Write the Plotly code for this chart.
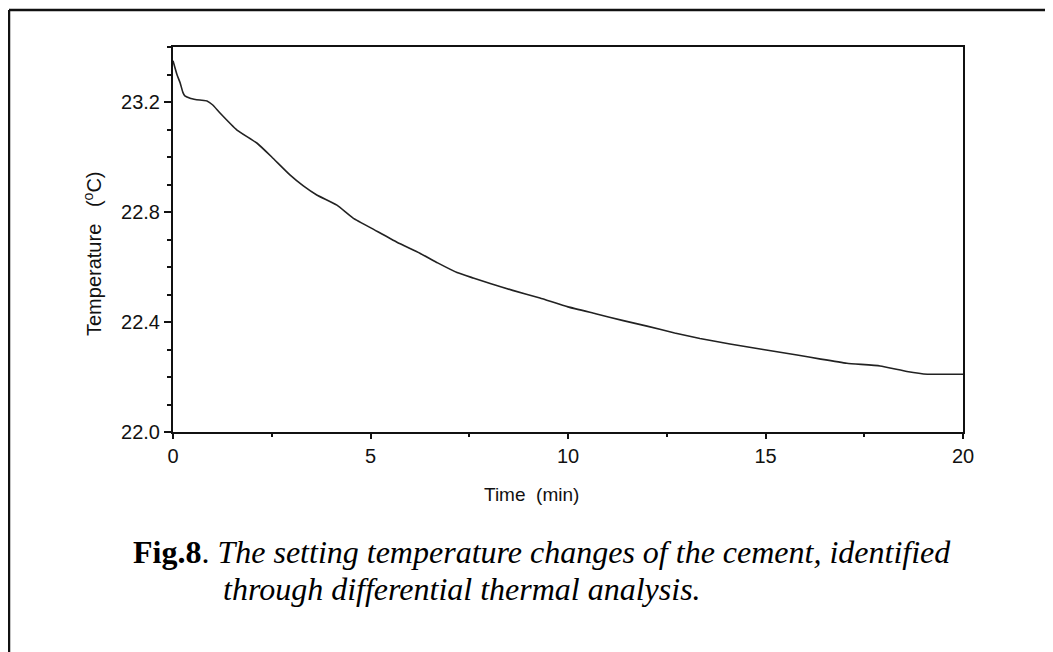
import plotly.graph_objects as go

time_min = [0, 0.1, 0.18, 0.25, 0.3, 0.45, 0.68, 0.86, 1.0, 1.19, 1.62, 2.13, 2.5, 2.96,
            3.3, 3.64, 4.15, 4.56, 5.1, 5.67, 6.25, 6.7, 7.19, 7.6, 8.03, 8.6, 9.29,
            10.0, 10.7, 11.4, 12.0, 12.7, 13.34, 14.1, 14.94, 15.8, 16.4, 17.06, 17.9,
            18.58, 19.1, 19.5, 20.0]
temperature = [23.35, 23.30, 23.27, 23.235, 23.222, 23.213, 23.207, 23.204, 23.19, 23.16,
               23.098, 23.05, 23.0, 22.935, 22.895, 22.862, 22.825, 22.778, 22.735, 22.69,
               22.65, 22.615, 22.58, 22.56, 22.54, 22.515, 22.487, 22.455, 22.43, 22.405,
               22.385, 22.36, 22.34, 22.32, 22.30, 22.28, 22.265, 22.25, 22.24, 22.22,
               22.21, 22.21, 22.21]

x_ticks = [0, 5, 10, 15, 20]
y_ticks = [22.0, 22.4, 22.8, 23.2]

x_title = "Time  (min)"
y_title = "Temperature   (<sup>o</sup>C)"
caption_line1 = "<b>Fig.8</b>. <i>The setting temperature changes of the cement, identified</i>"
caption_line2 = "<i>through differential thermal analysis.</i>"

W, H = 1053, 652
OFF = 8  # page body margin
L, T = 173 - OFF, 47 - OFF
PW, PH = 790, 385
R, B = W - L - PW, H - T - PH


def px(xpix):
    return (xpix - OFF - L) / PW


def py(ypix):
    return (T + PH - (ypix - OFF)) / PH


fig = go.Figure()
fig.add_trace(go.Scatter(x=time_min, y=temperature, mode="lines",
                         line=dict(color="#222222", width=1.6, shape="spline", smoothing=0.4),
                         showlegend=False))

axis_font = dict(family="Liberation Sans, Arial", size=20, color="#111111")

fig.update_layout(
    width=W, height=H,
    margin=dict(l=L, r=R, t=T, b=B),
    paper_bgcolor="white", plot_bgcolor="white",
    xaxis=dict(range=[0, 20], tickvals=x_ticks, ticktext=[str(v) for v in x_ticks],
               showgrid=False, zeroline=False, showline=True, linecolor="#111111",
               linewidth=2, mirror=True, ticks="outside", ticklen=5, tickwidth=1.5,
               tickcolor="#111111", tickfont=axis_font,
               minor=dict(dtick=2.5, tick0=0, ticks="outside", ticklen=3,
                          tickcolor="#111111", showgrid=False)),
    yaxis=dict(range=[22.0, 23.4], tickvals=y_ticks, ticktext=[f"{v:.1f}" for v in y_ticks],
               showgrid=False, zeroline=False, showline=True, linecolor="#111111",
               linewidth=2, mirror=True, ticks="outside", ticklen=7, tickwidth=1.5,
               tickcolor="#111111", tickfont=axis_font,
               minor=dict(dtick=0.1, tick0=22.0, ticks="outside", ticklen=4,
                          tickcolor="#111111", showgrid=False)),
)

fig.add_annotation(text=x_title, x=px(531), y=py(494), xref="paper", yref="paper",
                   xanchor="center", yanchor="middle", showarrow=False,
                   font=dict(family="Liberation Sans, Arial", size=19, color="#111111"))
fig.add_annotation(text=y_title, x=px(92), y=py(254), xref="paper", yref="paper",
                   xanchor="center", yanchor="middle", showarrow=False, textangle=-90,
                   font=dict(family="Liberation Sans, Arial", size=20, color="#111111"))

fig.add_annotation(text=caption_line1, x=px(131), y=py(552), xref="paper", yref="paper",
                   xanchor="left", yanchor="middle", showarrow=False,
                   font=dict(family="Liberation Serif, Times New Roman", size=32,
                             color="#000000"))
fig.add_annotation(text=caption_line2, x=px(221), y=py(589), xref="paper", yref="paper",
                   xanchor="left", yanchor="middle", showarrow=False,
                   font=dict(family="Liberation Serif, Times New Roman", size=32,
                             color="#000000"))

# outer frame (left and top edges visible)
fig.add_shape(type="line", xref="paper", yref="paper", x0=px(9), x1=px(9),
              y0=py(10), y1=py(720), line=dict(color="#111111", width=2.5))
fig.add_shape(type="line", xref="paper", yref="paper", x0=px(9), x1=px(1120),
              y0=py(10), y1=py(10), line=dict(color="#111111", width=2.5))

fig.write_html("out.html")
